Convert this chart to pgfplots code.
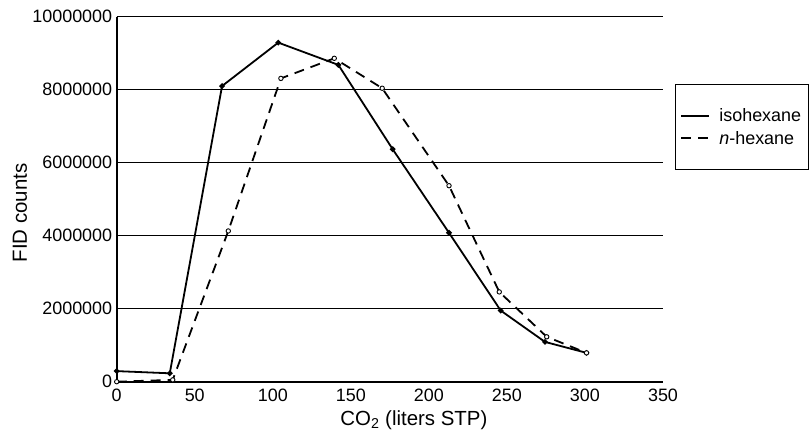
\documentclass[border=0pt]{standalone}
\usepackage{fontspec}
\setmainfont{Liberation Sans}
\usepackage{pgfplots}
\pgfplotsset{compat=1.18}
\begin{document}
\begin{tikzpicture}
\path[use as bounding box] (0,0) rectangle (809bp,440bp);
\begin{axis}[
  at={(116.7bp,58.3bp)}, anchor=south west,
  scale only axis, width=546.3bp, height=365bp,
  xmin=0, xmax=350, ymin=0, ymax=10000000,
  clip=false,
  axis lines=left,
  axis line style={-, line width=1.8bp, black},
  major tick length=0pt,
  scaled y ticks=false, scaled x ticks=false,
  ymajorgrids, grid style={black, line width=1.1bp},
  xtick={0,50,100,150,200,250,300,350},
  xticklabels={0,50,100,150,200,250,300,350},
  ytick={0,2000000,4000000,6000000,8000000,10000000},
  yticklabels={0,2000000,4000000,6000000,8000000,10000000},
  /pgf/number format/assume math mode=true,
  ticklabel style={font=\fontsize{18}{21}\selectfont},
  xticklabel style={yshift=-4bp},
  yticklabel style={xshift=-1bp},
  xlabel={CO\textsubscript{2} (liters STP)},
  ylabel={FID counts},
  label style={font=\fontsize{20.5}{24}\selectfont},
  xlabel style={at={(axis description cs:0.544,-0.105)}, anchor=center},
  ylabel style={at={(axis description cs:-0.177,0.462)}, anchor=center},
  legend style={at={(1.022,0.8156)}, anchor=north west, draw=black, line width=1.1bp,
    font=\fontsize{18}{21}\selectfont, inner xsep=5bp, inner ysep=22bp, row sep=4bp},
  legend cell align=left,
  legend image code/.code={\draw[#1] (0bp,0bp) -- (28bp,0bp); \path (35bp,0bp);},
]
\addplot[black, line width=1.8bp, mark=*, mark size=1.8bp, mark options={solid}] coordinates {
  (0,290000) (34,230000) (67.5,8100000) (103.5,9290000) (142,8680000)
  (176.8,6370000) (212.9,4080000) (246,1950000) (274.4,1090000) (301,790000)
};
\addlegendentry{isohexane}
\addplot[black, line width=1.8bp, dash pattern=on 10bp off 7bp, mark=*, mark size=2.2bp,
  mark options={solid, fill=white, line width=0.9bp}] coordinates {
  (0,0) (35.9,50000) (71.5,4130000) (105.2,8310000) (139.4,8860000)
  (170.1,8040000) (212.9,5370000) (245.1,2460000) (275.5,1230000) (301,790000)
};
\addlegendentry{\textit{n}-hexane}
\end{axis}
\end{tikzpicture}
\end{document}
